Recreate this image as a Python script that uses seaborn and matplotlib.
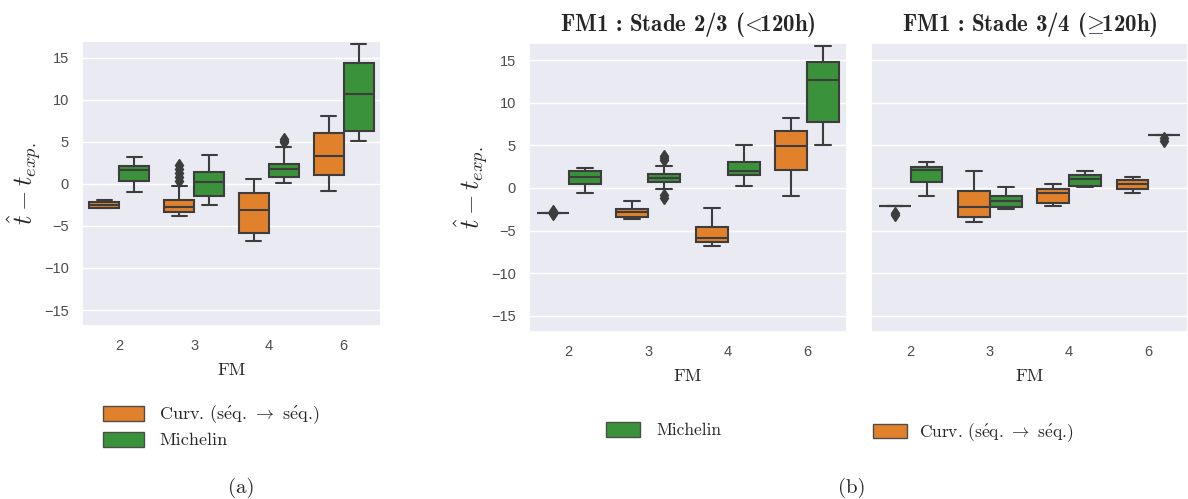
import pandas as pd
import matplotlib.pyplot as plt
import matplotlib.patches as mpatches
import seaborn as sns

# categories
fm_levels = ["2", "3", "4", "6"]
series = ["Curv.", "Michelin"]

# values (whiskers, quartiles, median, outliers)
a_curv = {
    "2": [-2.9, -2.9, -2.5, -2.1, -1.9],
    "3": [-3.85, -3.7, -3.6, -3.5, -3.4, -3.35, -3.3, -3.2, -3.1, -3.0, -2.9, -2.8, -2.7,
          -2.6, -2.4, -2.3, -2.1, -2.0, -1.9, -0.24, 0.4, 0.85, 1.3, 1.75, 2.2],
    "4": [-6.75, -5.87, -3.1, -1.11, 0.6],
    "6": [-0.87, 1.07, 3.29, 6.11, 8.13],
}
a_mich = {
    "2": [-0.91, 0.4, 1.67, 2.18, 3.17],
    "3": [-2.46, -1.39, 0.28, 1.39, 3.49],
    "4": [0.08, 0.3, 0.5, 0.7, 0.79, 1.0, 1.3, 1.6, 1.75, 1.9, 2.1, 2.3, 2.42,
          4.37, 4.95, 5.15, 5.35],
    "6": [5.12, 6.35, 10.7, 14.4, 16.7],
}
b1_curv = {
    "2": [-3.1, -2.9, -2.9, -2.9, -2.9, -2.9, -2.9, -2.9, -2.75],
    "3": [-3.63, -3.44, -2.85, -2.46, -1.56],
    "4": [-6.8, -6.4, -5.82, -4.53, -2.34],
    "6": [-1.0, 2.11, 4.92, 6.72, 8.16],
}
b1_mich = {
    "2": [-0.62, 0.43, 1.33, 2.03, 2.3],
    "3": [-1.15, -0.85, -0.16, 0.5, 0.7, 0.85, 0.95, 1.05, 1.13, 1.3, 1.45, 1.6, 1.68,
          2.62, 3.25, 3.55, 3.8],
    "4": [0.23, 1.52, 2.03, 3.0, 5.0],
    "6": [5.0, 7.7, 12.66, 14.73, 16.6],
}
b2_curv = {
    "2": [-3.2, -3.0, -2.1, -2.1, -2.1, -2.1, -2.1, -2.1, -2.1],
    "3": [-3.98, -3.44, -2.19, -0.31, 1.99],
    "4": [-2.07, -1.72, -0.55, -0.08, 0.51],
    "6": [-0.62, -0.08, 0.47, 0.94, 1.33],
}
b2_mich = {
    "2": [-1.0, 0.74, 2.1, 2.5, 3.09],
    "3": [-2.5, -2.19, -1.56, -0.94, 0.08],
    "4": [0.08, 0.23, 1.02, 1.52, 1.99],
    "6": [5.55, 5.8, 6.25, 6.25, 6.25, 6.25, 6.25, 6.25, 6.25],
}

titles = ["", r"FM1 : Stade 2/3 ($\!<\!\!$120h)", r"FM1 : Stade 3/4 ($\!\geq\!\!$120h)"]
ylabel = r"$\hat{t} - t_{exp.}$"
curv_label = r"Curv. (s$\mathrm{\acute{e}}$q. $\rightarrow$ s$\mathrm{\acute{e}}$q.)"
mich_label = "Michelin"

serif = ["cmr10", "DejaVu Serif"]
serif_bold = ["cmb10", "DejaVu Serif"]


def to_long(curv, mich):
    rows = []
    for name, d in zip(series, [curv, mich]):
        for fm in fm_levels:
            for v in d[fm]:
                rows.append({"FM": fm, "model": name, "err": v})
    return pd.DataFrame(rows)


sns.set_theme(style="darkgrid")
plt.rcParams["font.family"] = ["Liberation Sans", "DejaVu Sans"]
plt.rcParams["mathtext.fontset"] = "cm"

palette = {"Curv.": "tab:orange", "Michelin": "tab:green"}
flier = dict(marker="d", markerfacecolor="0.24", markeredgecolor="0.24", markersize=6.5)

fig = plt.figure(figsize=(11.88, 4.99), dpi=100)
ax_a = fig.add_axes([0.069, 0.3467, 0.2517, 0.5711])
ax_b1 = fig.add_axes([0.4453, 0.3347, 0.2677, 0.5791])
ax_b2 = fig.add_axes([0.7332, 0.3347, 0.2668, 0.5791])

panels = [(ax_a, a_curv, a_mich), (ax_b1, b1_curv, b1_mich), (ax_b2, b2_curv, b2_mich)]
for i, (ax, curv, mich) in enumerate(panels):
    df = to_long(curv, mich)
    sns.boxplot(data=df, x="FM", y="err", hue="model", order=fm_levels,
                hue_order=series, palette=palette, linewidth=1.5,
                linecolor="0.24", flierprops=flier, legend=False, ax=ax)
    ax.set_ylim(-16.9, 17.0)
    ax.set_yticks([-15, -10, -5, 0, 5, 10, 15])
    ax.tick_params(labelsize=10.5, colors="0.3")
    ax.set_xlabel("FM", family=serif, fontsize=13, labelpad=7)
    if i == 2:
        ax.set_ylabel("")
        ax.set_yticklabels([])
    else:
        ax.set_ylabel(ylabel, fontsize=19, labelpad=0)
    if titles[i]:
        ax.set_title(titles[i], family=serif_bold, fontsize=16.5, pad=9)

orange = sns.desaturate("tab:orange", 0.75)
green = sns.desaturate("tab:green", 0.75)
h_curv = mpatches.Patch(facecolor=orange, edgecolor="0.3", label=curv_label)
h_mich = mpatches.Patch(facecolor=green, edgecolor="0.3", label=mich_label)

leg_kw = dict(frameon=False, handleheight=0.9, loc="upper left", borderaxespad=0)
fig.legend(handles=[h_curv, h_mich], bbox_to_anchor=(0.081, 0.206),
           labelspacing=0.3, handlelength=2.27, handletextpad=0.83,
           prop={"family": serif, "size": 13}, **leg_kw)
fig.legend(handles=[h_mich], bbox_to_anchor=(0.504, 0.168),
           handlelength=2.0, handletextpad=0.92,
           prop={"family": serif, "size": 12.5}, **leg_kw)
fig.legend(handles=[h_curv], bbox_to_anchor=(0.729, 0.170),
           handlelength=1.95, handletextpad=0.7,
           prop={"family": serif, "size": 12.5}, **leg_kw)

fig.text(0.203, 0.013, "(a)", family=serif, ha="center", fontsize=15)
fig.text(0.717, 0.013, "(b)", family=serif, ha="center", fontsize=15)

fig.savefig("out.png", dpi=100)
